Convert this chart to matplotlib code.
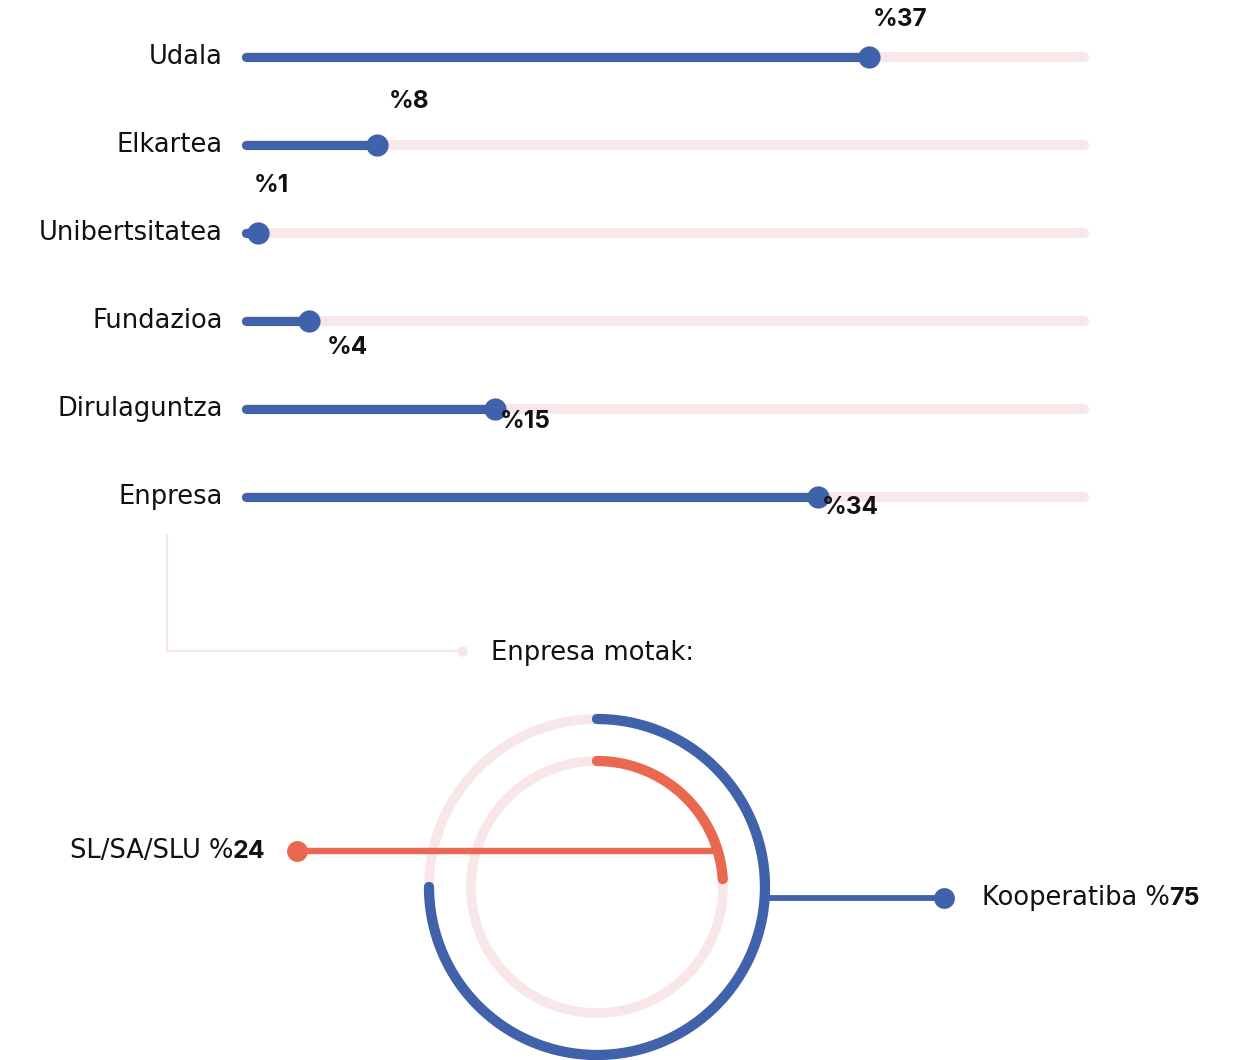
import numpy as np
import matplotlib
matplotlib.use("Agg")
import matplotlib.pyplot as plt
from matplotlib.lines import Line2D

# ---------------- data ----------------
categories = ["Udala", "Elkartea", "Unibertsitatea", "Fundazioa", "Dirulaguntza", "Enpresa"]
values = [37, 8, 1, 4, 15, 34]
scale_max = 50

ring_labels = ["Kooperatiba", "SL/SA/SLU"]
ring_values = [75, 24]
section_title = "Enpresa motak:"

# ---------------- style ----------------
BLUE = "#4062ab"
ORANGE = "#ea6850"
TRACK = "#f9e6e8"
CONNECT = "#f6e7e6"
TEXT = "#111111"
REG = ["DejaVu Sans"]
BOLD = ["Inter", "DejaVu Sans"]
FS = 18.5
FSB = 17.5
plt.rcParams["font.family"] = REG

W, H = 1246, 1060
fig = plt.figure(figsize=(W / 100, H / 100), dpi=100)

def fx(px):
    return px / W

def fy(py):
    return 1 - py / H

# ---------------- bar section ----------------
x0_px, x1_px = 241, 1089
row0_px, row_step = 57, 88
n = len(categories)
top_px = row0_px - row_step / 2
bot_px = row0_px + row_step * (n - 0.5)
ax = fig.add_axes([fx(x0_px), fy(bot_px), fx(x1_px - x0_px), (bot_px - top_px) / H])
ax.set_xlim(0, scale_max)
ax.set_ylim(n - 0.5, -0.5)
ax.axis("off")

cap = 0.3  # round-cap allowance in data units
# value label offsets (pixels, dx, dy-up)
label_offsets = [(32, 38), (32, 44), (13, 48), (39, -27), (30, -13), (33, -11)]

for i, (cat, v) in enumerate(zip(categories, values)):
    ax.plot([cap, scale_max - cap], [i, i], color=TRACK, lw=7.2,
            solid_capstyle="round", zorder=1, clip_on=False)
    ax.plot([cap, v], [i, i], color=BLUE, lw=6.6,
            solid_capstyle="round", zorder=2, clip_on=False)
    ax.plot([v], [i], "o", color=BLUE, ms=16, mew=0, zorder=3, clip_on=False)
    ax.annotate(cat, xy=(0, i), xytext=(-18, -7), textcoords="offset pixels",
                ha="right", va="baseline", fontsize=FS, color=TEXT)
    dx, dy = label_offsets[i]
    ax.annotate(f"%{v}", xy=(v, i), xytext=(dx, dy), textcoords="offset pixels",
                ha="center", va="center", fontsize=FSB, fontweight="bold",
                family=BOLD, color=TEXT, zorder=4)

# ---------------- connector + title ----------------
fig.add_artist(Line2D([fx(167), fx(167), fx(462)], [fy(535), fy(651), fy(651)],
                      color=CONNECT, lw=1.6, transform=fig.transFigure))
fig.add_artist(Line2D([fx(462)], [fy(651)], marker="o", ms=7.5, mew=0,
                      color=CONNECT, transform=fig.transFigure))
fig.text(fx(491), fy(660), section_title, ha="left", va="baseline",
         fontsize=FS, color=TEXT)

# ---------------- ring section ----------------
cx, cy, R = 597, 887, 168.0
area_top = 670
ax2 = fig.add_axes([0, 0, 1, (H - area_top) / H])
ax2.set_xlim((0 - cx) / R, (W - cx) / R)
ax2.set_ylim((cy - H) / R, (cy - area_top) / R)
ax2.axis("off")

radii = [1.0, 126 / R]
colors = [BLUE, ORANGE]
t = np.linspace(0, 2 * np.pi, 400)
for r, v, c in zip(radii, ring_values, colors):
    ax2.plot(r * np.sin(t), r * np.cos(t), color=TRACK, lw=7.0, zorder=1, clip_on=False)
    th = np.linspace(0, v / 100 * 2 * np.pi, 400)
    ax2.plot(r * np.sin(th), r * np.cos(th), color=c, lw=7.4,
             solid_capstyle="round", zorder=2, clip_on=False)

# leaders (layout constants)
ly_k = (cy - 898) / R
xk_end = (944 - cx) / R
ax2.plot([np.sqrt(radii[0] ** 2 - ly_k ** 2), xk_end], [ly_k, ly_k], color=BLUE,
         lw=4.2, zorder=3, clip_on=False)
ax2.plot([xk_end], [ly_k], "o", color=BLUE, ms=15, mew=0, zorder=4, clip_on=False)
ly_s = (cy - 851) / R
xs_end = (297 - cx) / R
ax2.plot([xs_end, np.sqrt(radii[1] ** 2 - ly_s ** 2) - 0.02], [ly_s, ly_s], color=ORANGE,
         lw=4.6, zorder=3, clip_on=False)
ax2.plot([xs_end], [ly_s], "o", color=ORANGE, ms=15, mew=0, zorder=4, clip_on=False)

# labels (regular name + %, bold number), shared baseline
tk = ax2.annotate(f"{ring_labels[0]} %", xy=(xk_end, ly_k), xytext=(38, -7),
                  textcoords="offset pixels", ha="left", va="baseline",
                  fontsize=FS, color=TEXT)
ax2.annotate(f"{ring_values[0]}", xy=(1, ly_k), xycoords=(tk, "data"), xytext=(-1, -7),
             textcoords="offset pixels", ha="left", va="baseline",
             fontsize=18, fontweight="bold", family=BOLD, color=TEXT)

ts = ax2.annotate(f"{ring_values[1]}", xy=(xs_end, ly_s), xytext=(-32, -7),
                  textcoords="offset pixels", ha="right", va="baseline",
                  fontsize=18, fontweight="bold", family=BOLD, color=TEXT)
ax2.annotate(f"{ring_labels[1]} %", xy=(0, ly_s), xycoords=(ts, "data"), xytext=(1, -7),
             textcoords="offset pixels", ha="right", va="baseline",
             fontsize=FS, color=TEXT)

fig.savefig("out.png", dpi=100, facecolor="white")
